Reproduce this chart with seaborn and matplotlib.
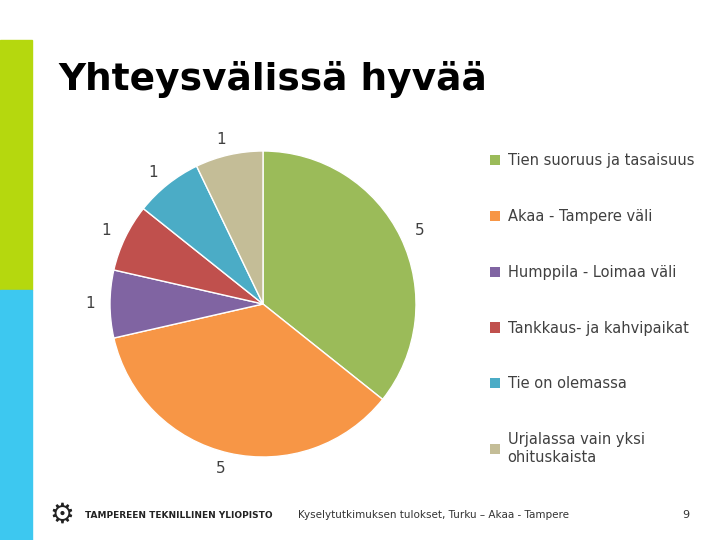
import matplotlib
matplotlib.use("Agg")
import matplotlib.pyplot as plt
import seaborn as sns
from matplotlib.patches import Rectangle, Patch

sns.set_theme(style="white")
plt.rcParams['font.family'] = ['DejaVu Sans']

categories = ['Tien suoruus ja tasaisuus', 'Akaa - Tampere väli', 'Humppila - Loimaa väli',
              'Tankkaus- ja kahvipaikat', 'Tie on olemassa', 'Urjalassa vain yksi\nohituskaista']
values = [5, 5, 1, 1, 1, 1]
colors = ['#9BBB59', '#F79646', '#8064A2', '#C0504D', '#4BACC6', '#C4BD97']

fig = plt.figure(figsize=(7.2, 5.4), dpi=100)
fig.patch.set_facecolor('white')

# slide decorations
fig.add_artist(Rectangle((0, 1 - 290 / 540), 32 / 720, 250 / 540, transform=fig.transFigure, color='#B5D80E', zorder=0))
fig.add_artist(Rectangle((0, 0), 32 / 720, 1 - 290 / 540, transform=fig.transFigure, color='#3DC8F0', zorder=0))
fig.text(58 / 720, 1 - 80 / 540, 'Yhteysvälissä hyvää', fontsize=27, fontweight='heavy', va='center', color='black')
fig.text(85 / 720, 1 - 515 / 540, 'TAMPEREEN TEKNILLINEN YLIOPISTO', fontsize=6.5, fontweight='bold', va='center', color='#222222')
fig.text(62 / 720, 1 - 515 / 540, '⚙', fontsize=20, va='center', ha='center', color='#222222')
fig.text(433 / 720, 1 - 515 / 540, 'Kyselytutkimuksen tulokset, Turku – Akaa - Tampere', fontsize=7.5, ha='center', va='center', color='#333333')
fig.text(686 / 720, 1 - 515 / 540, '9', fontsize=8, ha='center', va='center', color='#333333')

ax = fig.add_axes([110 / 720, 1 - 457 / 540, 306 / 720, 306 / 540])
ax.pie(values, colors=colors, startangle=90, counterclock=False,
       labels=[str(v) for v in values], labeldistance=1.1,
       textprops={'fontsize': 11, 'color': '#404040'},
       wedgeprops={'edgecolor': 'white', 'linewidth': 1})
ax.set_xlim(-1, 1)
ax.set_ylim(-1, 1)
ax.set_aspect('equal')
for t in ax.texts:
    t.set_clip_on(False)

handles = [Patch(facecolor=c, edgecolor='none') for c in colors]
fig.legend(handles, categories, loc='upper left', bbox_to_anchor=(477 / 720, 1 - 140 / 540),
           frameon=False, fontsize=10.5, labelspacing=2.8, handlelength=0.7, handleheight=0.7,
           handletextpad=0.5, labelcolor='#404040')

fig.savefig('out.png', dpi=100)
